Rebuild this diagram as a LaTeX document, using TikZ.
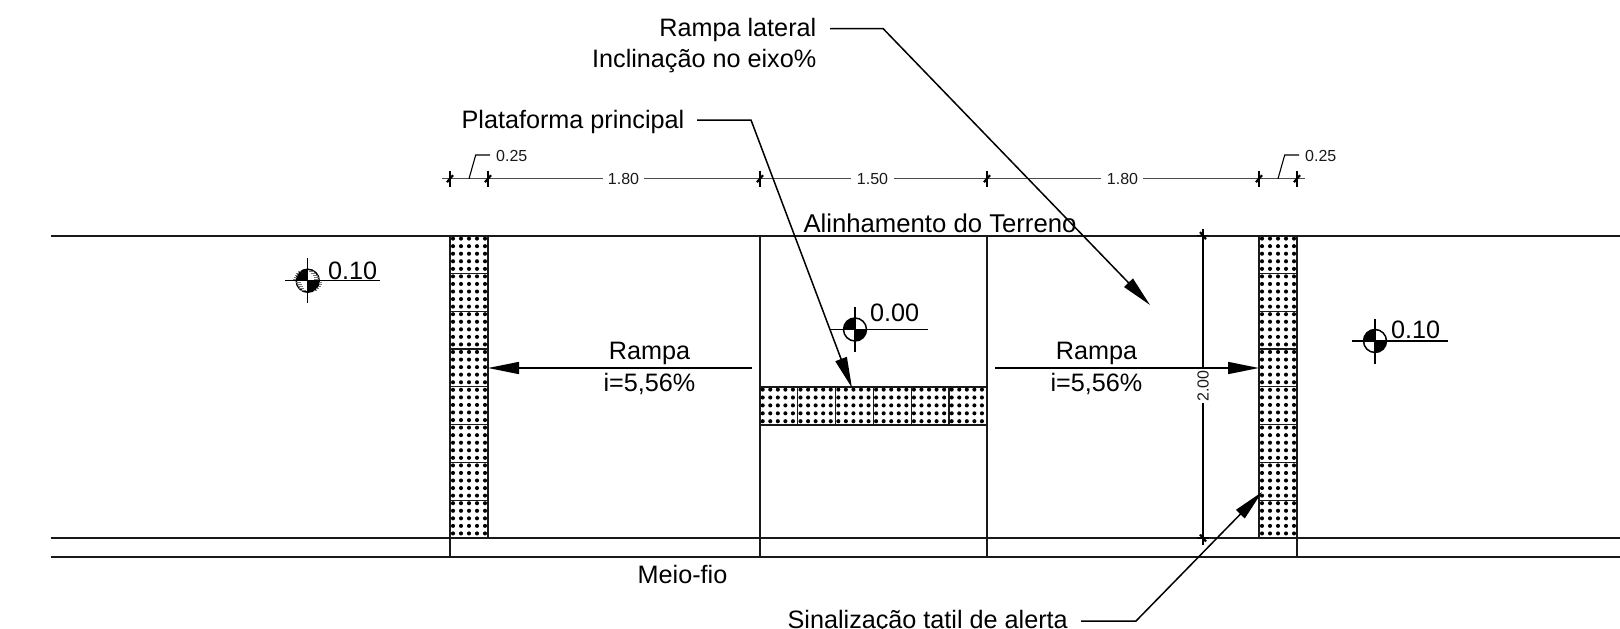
\documentclass[tikz,border=0pt]{standalone}
\usepackage{fontspec}
\setmainfont{Liberation Sans}
\usetikzlibrary{arrows.meta}
\tikzset{
  wall/.style={line width=1.5pt,black!90},
  band/.style={line width=2pt,black!90},
  seam/.style={line width=1.3pt,black!90},
  dimline/.style={line width=1.1pt,black!70},
  leader/.style={line width=1.5pt,black},
  tipped/.style={leader,-{Triangle[length=31pt,width=12pt]}},
  lbl/.style={font=\fontsize{25.2}{30}\selectfont,inner sep=0pt},
  dimlbl/.style={font=\fontsize{16}{19}\selectfont,inner sep=0pt,text=black!90},
  tick/.style={line width=1.1pt,black},
  slash/.style={line width=2.2pt,black},
  fuzz/.style={line width=0.5pt,black!55}
}
\newcommand{\tiledot}[2]{\fill[black] (#1,#2) circle[radius=2.05pt];}
\newcommand{\xtick}[2]{\draw[tick] (#1,#2-8) -- (#1,#2+8); \draw[slash] (#1-3,#2+3.5) -- (#1+3,#2-3.5);}
\newcommand{\ytick}[2]{\draw[tick] (#1-6,#2) -- (#1+6,#2); \draw[slash] (#1-3,#2-3.5) -- (#1+3,#2+3.5);}
\newcommand{\levelmark}[5]{% cx, cy, left end, right end, name
  \coordinate (#5c) at (#1,#2);
  \coordinate (#5l) at (#3,#2);
  \coordinate (#5r) at (#4,#2);
  \fill[white] (#5c) circle[radius=11.5pt];
  \fill[black] (#5c) -- ++(-11.5,0) arc[start angle=180,end angle=90,radius=11.5pt] -- cycle;
  \fill[black] (#5c) -- ++(11.5,0) arc[start angle=0,end angle=-90,radius=11.5pt] -- cycle;
  \draw[leader] (#5c) circle[radius=11.5pt];
  \draw[leader] (#5l) -- (#5r);
  \draw[leader] (#1,#2-22.5) -- (#1,#2+22.5);
}
\begin{document}
\begin{tikzpicture}[x=1pt,y=-1pt]
\useasboundingbox (0,0) rectangle (1620,629);
\fill[white] (0,0) rectangle (1620,629);

% dots of the tiles
\foreach \cx in {453,461,469,477,485,1262,1270,1278,1286,1294}
  \foreach \k in {0,...,39}
    {\pgfmathsetmacro{\cy}{238.6+7.56*\k}\tiledot{\cx}{\cy}}
\foreach \k in {0,...,29}
  \foreach \cy in {389.6,397.5,405.4,413.3,421.2}
    {\pgfmathsetmacro{\cx}{762.7+7.56*\k}\tiledot{\cx}{\cy}}

% seams
\foreach \k in {1,...,7}{
  \pgfmathsetmacro{\sy}{235.6+37.8*\k}
  \draw[seam] (450,\sy) -- (488,\sy);
  \draw[seam] (1259,\sy) -- (1297,\sy);
}
\foreach \k in {1,...,5}{
  \pgfmathsetmacro{\sx}{760+37.8*\k}
  \draw[seam] (\sx,387) -- (\sx,425);
}
\draw[band] (760,387) -- (987,387);
\draw[band] (760,425) -- (987,425);

% walls
\draw[wall,line width=2pt] (50.6,235.5) -- (1620,235.5);
\draw[wall] (50.6,538) -- (1620,538);
\draw[wall] (50.6,557) -- (1620,557);
\draw[band] (450,235.6) -- (450,538);
\draw[wall] (450,538) -- (450,557);
\draw[band] (488,235.6) -- (488,538);
\draw[wall] (760,235.6) -- (760,557);
\draw[wall] (987,235.6) -- (987,557);
\draw[band] (1259,235.6) -- (1259,538);
\draw[band] (1297,235.6) -- (1297,538);
\draw[wall] (1297,538) -- (1297,557);

% horizontal dimension chain
\node[dimlbl] (d180a) at (623.5,179) {1.80};
\node[dimlbl] (d150) at (872.5,179) {1.50};
\node[dimlbl] (d180b) at (1122.5,179) {1.80};
\node[dimlbl,anchor=west] (d025a) at (496,155.5) {0.25};
\node[dimlbl,anchor=west] (d025b) at (1305,155.5) {0.25};
\coordinate (dl0) at (442,178.7);
\coordinate (dl1) at (1305,178.7);
\draw[dimline] (dl0) -- (603,178.7);
\draw[dimline] (644,178.7) -- (851,178.7);
\draw[dimline] (894,178.7) -- (1101,178.7);
\draw[dimline] (1143,178.7) -- (dl1);
\xtick{450}{178.7}\xtick{488}{178.7}\xtick{760}{178.7}
\xtick{987}{178.7}\xtick{1259}{178.7}\xtick{1297}{178.7}
\draw[tick] (469,178.7) -- (475.7,155) -- (490,155);
\draw[tick] (1278,178.7) -- (1284.7,155) -- (1299,155);

% vertical dimension
\node[dimlbl,rotate=90] (d200) at (1203,386) {2.00};
\coordinate (vd0) at (1203,229);
\coordinate (vd1) at (1203,545);
\draw[tick] (vd0) -- (1203,369);
\draw[tick] (1203,403) -- (vd1);
\ytick{1203}{235.6}\ytick{1203}{538}

% ramps
\node[lbl] (r1a) at (649.5,353) {Rampa};
\node[lbl] (r1b) at (649.5,384) {i=5,56\%};
\node[lbl] (r2a) at (1096.5,353) {Rampa};
\node[lbl] (r2b) at (1096.5,384) {i=5,56\%};
\coordinate (ra0) at (752,368);
\coordinate (ra1) at (488,368);
\coordinate (rb0) at (995,368);
\coordinate (rb1) at (1259,368);
\draw[tipped] (ra0) -- (ra1);
\draw[tipped] (rb0) -- (rb1);

% labels
\node[lbl,font=\fontsize{25.7}{30}\selectfont] (align) at (940,223.5) {Alinhamento do Terreno};
\node[lbl] (meio) at (682.5,574) {Meio-fio};

% leaders
\node[lbl,anchor=east] (lat) at (816.5,30) {Rampa lateral};
\node[lbl,anchor=east] (inc) at (816.5,61) {Inclinação no eixo\%};
\coordinate (lat0) at (830,28.5);
\coordinate (lat1) at (883,28.5);
\coordinate (lat2) at (1150,305);
\draw[tipped] (lat0) -- (lat1) -- (lat2);

\node[lbl,anchor=east] (plat) at (684.5,122) {Plataforma principal};
\coordinate (pl0) at (697,120);
\coordinate (pl1) at (751,120);
\coordinate (pl2) at (852,388);
\draw[tipped] (pl0) -- (pl1) -- (pl2);

\node[lbl,anchor=base east] (sin) at (1068,628) {Sinalização tatil de alerta};
\coordinate (si0) at (1081,621);
\coordinate (si1) at (1136,621);
\coordinate (si2) at (1262,492);
\draw[tipped] (si0) -- (si1) -- (si2);

% level markers
\levelmark{307.7}{280.7}{285}{380}{ma}
\levelmark{855}{329.5}{830}{928}{mb}
\levelmark{1375}{341}{1352}{1448}{mc}
\foreach \dy in {1.5,3.5,5.5,7.5,9.5}{
  \pgfmathsetmacro{\hw}{sqrt(11.5*11.5-\dy*\dy)}
  \draw[fuzz] (307.7-\hw-3,280.7-\dy) -- (307.7-\hw,280.7-\dy);
  \draw[fuzz] (307.7+\hw-5,280.7-\dy) -- (307.7+\hw,280.7-\dy);
  \draw[fuzz] (307.7+\hw,280.7+\dy) -- (307.7+\hw+3,280.7+\dy);
  \draw[fuzz] (307.7-\hw,280.7+\dy) -- (307.7-\hw+5,280.7+\dy);
}
\node[lbl,anchor=west] (ta) at (328,271) {0.10};
\node[lbl,anchor=west] (tb) at (870,313) {0.00};
\node[lbl,anchor=west] (tc) at (1391,330) {0.10};
\end{tikzpicture}
\end{document}
